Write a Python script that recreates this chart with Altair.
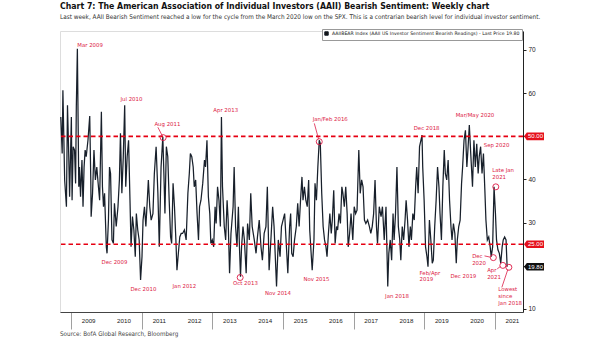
import altair as alt
import pandas as pd

# ---- series (decimal year, bearish %) ----
years = [2008.71, 2008.75, 2008.77, 2008.82, 2008.87, 2008.90, 2008.93, 2008.96, 2009.01, 2009.03,
         2009.06, 2009.10, 2009.13, 2009.15, 2009.18, 2009.22, 2009.24, 2009.27, 2009.31, 2009.34,
         2009.37, 2009.40, 2009.43, 2009.48, 2009.53, 2009.56, 2009.57, 2009.61, 2009.65, 2009.69,
         2009.73, 2009.76, 2009.81, 2009.86, 2009.89, 2009.92, 2009.95, 2010.00, 2010.02, 2010.06,
         2010.09, 2010.12, 2010.16, 2010.20, 2010.23, 2010.28, 2010.33, 2010.37, 2010.40, 2010.44,
         2010.48, 2010.52, 2010.55, 2010.59, 2010.63, 2010.67, 2010.70, 2010.74, 2010.78, 2010.82,
         2010.85, 2010.89, 2010.93, 2010.97, 2011.01, 2011.04, 2011.08, 2011.12, 2011.16, 2011.19,
         2011.23, 2011.27, 2011.32, 2011.36, 2011.41, 2011.46, 2011.50, 2011.55, 2011.60, 2011.63,
         2011.66, 2011.70, 2011.74, 2011.78, 2011.82, 2011.85, 2011.89, 2011.93, 2011.97, 2012.00,
         2012.04, 2012.08, 2012.12, 2012.16, 2012.21, 2012.26, 2012.31, 2012.35, 2012.38, 2012.42,
         2012.46, 2012.49, 2012.53, 2012.57, 2012.61, 2012.64, 2012.68, 2012.73, 2012.78, 2012.81,
         2012.85, 2012.89, 2012.93, 2012.96, 2013.00, 2013.04, 2013.08, 2013.11, 2013.15, 2013.19,
         2013.23, 2013.26, 2013.29, 2013.34, 2013.38, 2013.42, 2013.45, 2013.49, 2013.53, 2013.59,
         2013.62, 2013.66, 2013.70, 2013.74, 2013.77, 2013.80, 2013.83, 2013.87, 2013.91, 2013.96,
         2014.00, 2014.05, 2014.09, 2014.13, 2014.19, 2014.24, 2014.28, 2014.33, 2014.38, 2014.42,
         2014.47, 2014.52, 2014.56, 2014.61, 2014.66, 2014.71, 2014.75, 2014.82, 2014.87, 2014.92,
         2014.96,
         2015.05, 2015.09, 2015.14, 2015.19, 2015.22, 2015.25, 2015.29, 2015.33, 2015.38, 2015.42,
         2015.46, 2015.50, 2015.54, 2015.57, 2015.61, 2015.65, 2015.69, 2015.73, 2015.76, 2015.80,
         2015.83, 2015.88, 2015.91, 2015.95, 2015.99, 2016.03, 2016.06, 2016.10, 2016.14, 2016.18,
         2016.22, 2016.25, 2016.29, 2016.33, 2016.37, 2016.40, 2016.44, 2016.48, 2016.52, 2016.55,
         2016.59, 2016.63, 2016.67, 2016.70, 2016.74, 2016.78, 2016.82, 2016.85, 2016.89, 2016.93,
         2016.98, 2017.02, 2017.06, 2017.10, 2017.15, 2017.19, 2017.23, 2017.27, 2017.31, 2017.35,
         2017.40, 2017.45, 2017.49, 2017.53, 2017.57, 2017.61, 2017.65, 2017.68, 2017.73, 2017.78,
         2017.82, 2017.87, 2017.92, 2017.97, 2018.00, 2018.04, 2018.08, 2018.12, 2018.15, 2018.19,
         2018.23, 2018.27, 2018.31, 2018.34, 2018.38, 2018.42, 2018.46, 2018.49, 2018.53, 2018.57,
         2018.61, 2018.64, 2018.68, 2018.72, 2018.76, 2018.79, 2018.83, 2018.87, 2018.91, 2018.94,
         2018.96, 2019.00, 2019.04, 2019.08, 2019.11, 2019.15, 2019.19, 2019.23, 2019.26, 2019.30,
         2019.34, 2019.38, 2019.42, 2019.45, 2019.49, 2019.53, 2019.57, 2019.60, 2019.64, 2019.68,
         2019.72, 2019.76, 2019.79, 2019.83, 2019.87, 2019.91, 2019.94, 2019.98, 2020.02, 2020.06,
         2020.09, 2020.13, 2020.17, 2020.21, 2020.24, 2020.28, 2020.32, 2020.37, 2020.41, 2020.45,
         2020.49, 2020.53, 2020.56, 2020.60, 2020.64, 2020.68, 2020.72, 2020.75, 2020.79, 2020.83,
         2020.87, 2020.90, 2020.94, 2020.98, 2021.02, 2021.05, 2021.09, 2021.13, 2021.17, 2021.21,
         2021.24, 2021.28, 2021.32, 2021.35]

values = [54.5, 46.0, 60.7, 39.9, 33.7, 57.2, 47.6, 36.0, 54.5, 35.2,
          47.6, 46.8, 39.1, 56.8, 70.3, 38.3, 42.9, 36.0, 44.5, 33.7,
          42.9, 46.8, 45.3, 49.1, 54.7, 39.9, 31.4, 36.8, 46.8, 39.9,
          42.9, 39.9, 35.2, 55.7, 38.3, 33.7, 36.8, 24.4, 22.9, 30.6,
          42.9, 41.4, 26.0, 25.2, 34.5, 29.1, 33.7, 39.9, 50.7, 36.8,
          45.3, 57.2, 38.3, 45.3, 49.1, 35.2, 24.4, 31.4, 28.3, 22.1,
          32.1, 28.3, 26.0, 16.7, 22.1, 30.6, 33.7, 29.1, 35.2, 39.9,
          33.7, 30.6, 32.1, 41.4, 47.6, 36.8, 24.4, 42.9, 49.9, 41.4,
          32.1, 47.6, 45.3, 35.2, 26.7, 25.2, 39.1, 33.7, 26.0, 19.0,
          22.9, 26.7, 27.5, 27.5, 28.3, 26.0, 36.8, 41.4, 46.0, 45.3,
          42.9, 38.3, 39.9, 32.1, 26.0, 33.7, 35.2, 39.1, 44.5, 42.9,
          49.1, 36.0, 32.1, 25.2, 26.0, 24.4, 33.7, 29.8, 38.3, 35.2,
          29.1, 54.5, 38.3, 29.1, 26.0, 35.2, 30.6, 18.3, 27.5, 33.7,
          42.9, 29.1, 24.4, 33.7, 24.4, 17.5, 24.4, 29.1, 26.0, 18.3,
          29.8, 26.0, 36.8, 29.1, 26.0, 22.9, 26.7, 30.6, 24.4, 21.3,
          27.5, 29.1, 38.3, 19.0, 26.0, 33.7, 29.1, 15.2, 26.0, 22.1,
          29.1,
          32.1, 26.0, 18.3, 29.1, 32.1, 22.9, 22.1, 26.0, 29.1, 34.5,
          29.1, 35.2, 40.6, 35.2, 38.3, 35.2, 33.7, 39.9, 28.3, 22.9,
          19.0, 26.0, 39.1, 35.2, 42.9, 49.1, 48.3, 36.8, 29.1, 26.0,
          24.4, 22.1, 27.5, 32.1, 27.5, 30.6, 37.5, 25.2, 29.1, 28.3,
          32.1, 29.8, 38.3, 36.8, 33.7, 38.3, 32.1, 24.4, 27.5, 32.1,
          26.0, 33.7, 32.1, 32.9, 46.8, 36.8, 39.9, 38.3, 30.6, 29.8,
          30.6, 29.1, 27.5, 29.1, 32.1, 39.9, 29.1, 25.2, 33.7, 31.4,
          33.7, 26.0, 33.7, 15.2, 22.9, 26.0, 21.3, 32.1, 26.0, 32.1,
          42.9, 29.1, 26.0, 21.3, 29.1, 26.0, 30.6, 35.2, 30.6, 24.4,
          29.1, 26.0, 32.1, 30.6, 38.3, 42.9, 36.8, 47.6, 49.1, 50.3,
          42.9, 35.2, 24.4, 22.1, 19.8, 30.6, 26.0, 20.6, 21.3, 29.1,
          35.2, 42.9, 38.3, 32.1, 26.0, 38.3, 46.8, 41.4, 39.9, 44.5,
          35.2, 29.1, 26.0, 29.8, 27.5, 20.6, 26.0, 29.1, 30.6, 39.1,
          42.9, 49.1, 51.4, 42.9, 46.8, 52.6, 46.0, 38.3, 49.1, 42.9,
          48.3, 41.4, 45.3, 47.6, 41.4, 46.0, 37.5, 30.6, 26.0, 26.7,
          24.4, 22.1, 24.4, 38.3, 32.1, 26.0, 23.7, 22.9, 20.6, 24.4,
          26.0, 26.7, 26.0, 19.8]

series_name = "AAIIBEAR Index (AAII US Investor Sentiment Bearish Readings) - Last Price 19.80"

# reference levels and right-axis tags
levels = [50, 25]
tag_values = [50.0, 25.0, 19.8]
tag_labels = ["50.00", "25.00", "19.80"]
tag_colors = ["#e5101c", "#e5101c", "#111111"]

# annotations (single line, centred)
ann_c_text = ["Mar 2009", "Jul 2010", "Aug 2011", "Apr 2013", "Jan/Feb 2016", "Dec 2018",
              "Mar/May 2020", "Sep 2020", "Dec 2009", "Dec 2010", "Jan 2012", "Oct 2013",
              "Nov 2014", "Nov 2015", "Jan 2018", "Dec 2019"]
ann_c_year = [2009.54, 2010.71, 2011.73, 2013.38, 2016.34, 2019.07, 2020.44, 2021.05,
              2010.23, 2011.05, 2012.21, 2013.94, 2014.86, 2015.95, 2018.23, 2020.11]
ann_c_val = [71.2, 58.6, 52.9, 56.2, 54.0, 52.0, 54.9, 48.0,
             20.9, 14.7, 15.4, 16.0, 13.7, 17.0, 13.1, 17.6]

# annotations (multi line, left aligned, y = top of block)
ann_l_text = ["Late Jan\n2021", "Dec\n2020", "Apr\n2021", "Lowest\nsince\nJan 2018", "Feb/Apr\n2019"]
ann_l_year = [2020.93, 2020.36, 2020.785, 2021.10, 2018.87]
ann_l_val = [42.6, 22.7, 19.5, 15.0, 18.9]

# circled points
circ_year = [2011.61, 2013.79, 2016.03, 2021.03, 2020.96, 2021.23, 2021.40]
circ_val = [49.7, 17.3, 48.75, 38.3, 21.9, 20.1, 19.66]

# leader lines
lead_y1 = [2011.46, 2015.89, 2020.71, 2021.07, 2021.20]
lead_y2 = [2011.58, 2016.01, 2020.88, 2021.16, 2021.37]
lead_v1 = [52.1, 53.0, 22.3, 19.3, 15.0]
lead_v2 = [50.2, 49.4, 22.0, 19.85, 19.15]

year_ticks = list(range(2009, 2022))

title_text = "Chart 7: The American Association of Individual Investors (AAII) Bearish Sentiment: Weekly chart"
subtitle_text = ("Last week, AAII Bearish Sentiment reached a low for the cycle from the March 2020 low on the SPX. "
                 "This is a contrarian bearish level for individual investor sentiment.")
source_text = "Source: BofA Global Research, Bloomberg"

# ---- layout ----
W, H = 463, 281
NARROW = "Liberation Sans Narrow, DejaVu Sans Condensed, Arial Narrow, sans-serif"
RED_TXT = "#dc1a45"
RED_LINE = "#e60012"

xs = alt.Scale(domain=[2008.688, 2021.80], nice=False, zero=False)
ys = alt.Scale(domain=[9.305, 74.40], nice=False, zero=False)

df = pd.DataFrame({"t": years, "v": values, "s": [series_name] * len(years)})

line = alt.Chart(df).mark_line(strokeWidth=1.25, strokeJoin="miter").encode(
    x=alt.X("t:Q", scale=xs, axis=alt.Axis(
        values=year_ticks, labels=False, tickSize=17, tickColor="#a0a0a0",
        tickWidth=1, domainColor="#444", title=None, grid=False)),
    y=alt.Y("v:Q", scale=ys, axis=alt.Axis(
        orient="right", values=list(range(10, 75, 5)), format="d",
        labelExpr="(datum.value % 10 === 0 && datum.value !== 50 && datum.value !== 20) ? datum.label : ''",
        tickSize={"condition": {"test": "datum.value % 10 === 0", "value": 3}, "value": 2},
        tickColor="#222", domainColor="#222", labelPadding=2, labelFontSize=6.5,
        labelFont="Liberation Sans", labelColor="#222", title=None, grid=False)),
    color=alt.Color("s:N", scale=alt.Scale(range=["#18202b"]), legend=alt.Legend(
        orient="none", legendX=262, legendY=-2, title=None, symbolType="square",
        symbolSize=12, symbolFillColor="#111", symbolStrokeColor="#111", symbolStrokeWidth=1,
        labelFont="DejaVu Sans", labelFontSize=4.65, labelColor="#222", fillColor="white",
        strokeColor="#999", padding=2, cornerRadius=0, labelLimit=400, labelOffset=3)),
)

year_labels = alt.Chart(pd.DataFrame({"yr": year_ticks})).transform_calculate(
    mid="datum.yr + 0.5", lbl="'' + datum.yr").mark_text(
    font="Liberation Sans", fontSize=6.2, color="#222", align="center", baseline="middle").encode(
    x=alt.X("mid:Q", scale=xs), y=alt.value(H + 8.5), text="lbl:N")

rules = alt.Chart(pd.DataFrame({"lvl": levels})).mark_rule(
    color=RED_LINE, strokeDash=[4.5, 3], strokeWidth=1.6).encode(y=alt.Y("lvl:Q", scale=ys))

circles = alt.Chart(pd.DataFrame({"t": circ_year, "v": circ_val})).mark_point(
    shape="circle", size=36, filled=False, color=RED_TXT, strokeWidth=0.9, opacity=1).encode(
    x=alt.X("t:Q", scale=xs), y=alt.Y("v:Q", scale=ys))

leaders = alt.Chart(pd.DataFrame({"a": lead_y1, "b": lead_y2, "c": lead_v1, "d": lead_v2})).mark_rule(
    color=RED_TXT, strokeWidth=0.8).encode(
    x=alt.X("a:Q", scale=xs), x2="b:Q", y=alt.Y("c:Q", scale=ys), y2="d:Q")

ann_c = alt.Chart(pd.DataFrame({"txt": ann_c_text, "t": ann_c_year, "v": ann_c_val})).mark_text(
    font="DejaVu Sans", fontSize=5.4, color=RED_TXT, align="center", baseline="middle").encode(
    x=alt.X("t:Q", scale=xs), y=alt.Y("v:Q", scale=ys), text="txt:N")

ann_l = alt.Chart(pd.DataFrame({"txt": ann_l_text, "t": ann_l_year, "v": ann_l_val})).mark_text(
    font="DejaVu Sans", fontSize=5.4, color=RED_TXT, align="left", baseline="top",
    lineBreak="\n", lineHeight=6.8).encode(
    x=alt.X("t:Q", scale=xs), y=alt.Y("v:Q", scale=ys), text="txt:N")

TAG_PATH = "M-1,0 L-0.72,-0.38 L1,-0.38 L1,0.38 L-0.72,0.38 Z"
tag_df = pd.DataFrame({"v": tag_values, "lbl": tag_labels, "c": tag_colors})
tags = alt.Chart(tag_df).mark_point(shape=TAG_PATH, filled=True, size=400, opacity=1, strokeWidth=0).encode(
    x=alt.value(W + 11), y=alt.Y("v:Q", scale=ys), fill=alt.Fill("c:N", scale=None, legend=None))
tag_txt = alt.Chart(tag_df).mark_text(font="Liberation Sans", fontSize=6, color="white",
                                      align="center", baseline="middle").encode(
    x=alt.value(W + 12.5), y=alt.Y("v:Q", scale=ys), text="lbl:N")

source = alt.Chart(pd.DataFrame({"txt": [source_text]})).mark_text(
    font=NARROW, fontSize=6.3, color="#444", align="left", baseline="middle").encode(
    x=alt.value(0), y=alt.value(H + 22), text="txt:N")

chart = alt.layer(line, year_labels, rules, leaders, circles, ann_c, ann_l, tags, tag_txt, source).properties(
    width=W, height=H,
    autosize=alt.AutoSizeParams(type="none"),
    padding={"left": 60, "top": 31, "right": 82, "bottom": 29},
    title=alt.TitleParams(text=title_text, subtitle=subtitle_text, anchor="start", frame="group",
                          font=NARROW, fontSize=8.7, fontWeight="bold", color="#111",
                          subtitleFont=NARROW, subtitleFontSize=6.4, subtitleColor="#333",
                          subtitlePadding=2.5, offset=8.5),
).configure_view(stroke=None).configure(background="white")

chart.save("out.html", embed_options={"renderer": "svg", "actions": False})
